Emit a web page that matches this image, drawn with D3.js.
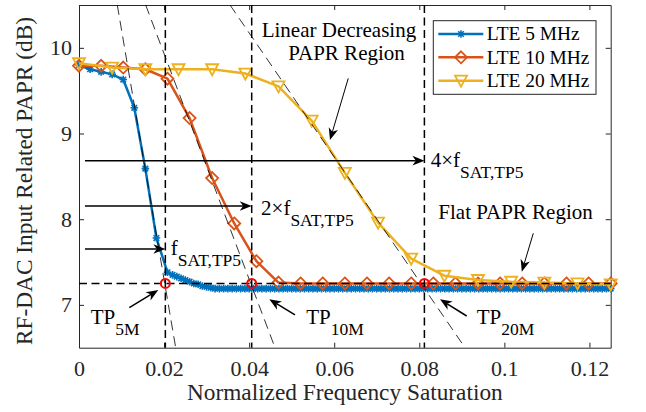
<!DOCTYPE html>
<html lang="en">
<head>
<meta charset="UTF-8">
<title>RF-DAC input PAPR vs normalized frequency saturation</title>
<style>
    body { margin: 0; background: #fff; }
    svg text { font-family: 'Liberation Serif', 'Times New Roman', serif; }
</style>
<script src="https://d3js.org/d3.v7.min.js"></script>
</head>
<body>
<svg id="chart" width="646" height="412"></svg>
<script>
// values
const xTicks = [0, 0.02, 0.04, 0.06, 0.08, 0.1, 0.12];
const xTickLabels = ["0", "0.02", "0.04", "0.06", "0.08", "0.1", "0.12"];
const yTicks = [7, 8, 9, 10];

const seriesNames = ["LTE 5 MHz", "LTE 10 MHz", "LTE 20 MHz"];
const seriesColors = ["#0072BD", "#D95319", "#EDB120"];

const lte5X = [0, 0.0026, 0.0052, 0.0078, 0.0104, 0.013, 0.0156, 0.0182, 0.0208,
    0.022, 0.023, 0.024, 0.025, 0.026, 0.027, 0.028, 0.029, 0.030, 0.031,
    0.032, 0.033, 0.034, 0.035, 0.036, 0.037, 0.038, 0.039, 0.040, 0.041,
    0.042, 0.043, 0.044, 0.045, 0.046, 0.047, 0.048, 0.049, 0.050, 0.051,
    0.052, 0.053, 0.054, 0.055, 0.056, 0.057, 0.058, 0.059, 0.060, 0.061,
    0.062, 0.063, 0.064, 0.065, 0.066, 0.067, 0.068, 0.069, 0.070, 0.071,
    0.072, 0.073, 0.074, 0.075, 0.076, 0.077, 0.078, 0.079, 0.080, 0.081,
    0.082, 0.083, 0.084, 0.085, 0.086, 0.087, 0.088, 0.089, 0.090, 0.091,
    0.092, 0.093, 0.094, 0.095, 0.096, 0.097, 0.098, 0.099, 0.100, 0.101,
    0.102, 0.103, 0.104, 0.105, 0.106, 0.107, 0.108, 0.109, 0.110, 0.111,
    0.112, 0.113, 0.114, 0.115, 0.116, 0.117, 0.118, 0.119, 0.120, 0.121,
    0.122, 0.123, 0.124, 0.125];
const lte5Y = [9.80, 9.75, 9.72, 9.69, 9.63, 9.30, 8.59, 7.78, 7.38,
    7.35, 7.33, 7.31, 7.29, 7.27, 7.25, 7.24, 7.22, 7.21, 7.20,
    7.19, 7.19, 7.19, 7.19, 7.19, 7.19, 7.19, 7.19, 7.19, 7.19,
    7.19, 7.19, 7.19, 7.19, 7.19, 7.19, 7.19, 7.19, 7.19, 7.19,
    7.19, 7.19, 7.19, 7.19, 7.19, 7.19, 7.19, 7.19, 7.19, 7.19,
    7.19, 7.19, 7.19, 7.19, 7.19, 7.19, 7.19, 7.19, 7.19, 7.19,
    7.19, 7.19, 7.19, 7.19, 7.19, 7.19, 7.19, 7.19, 7.19, 7.19,
    7.19, 7.19, 7.19, 7.19, 7.19, 7.19, 7.19, 7.19, 7.19, 7.19,
    7.19, 7.19, 7.19, 7.19, 7.19, 7.19, 7.19, 7.19, 7.19, 7.19,
    7.19, 7.19, 7.19, 7.19, 7.19, 7.19, 7.19, 7.19, 7.19, 7.19,
    7.19, 7.19, 7.19, 7.19, 7.19, 7.19, 7.19, 7.19, 7.19, 7.19,
    7.19, 7.19, 7.19, 7.19];

const lte10X = [0, 0.0052, 0.0104, 0.0156, 0.0208, 0.026, 0.0313, 0.0365, 0.0417,
    0.0469, 0.0521, 0.0573, 0.0625, 0.0677, 0.0729, 0.0781, 0.0833, 0.0885,
    0.0938, 0.099, 0.1042, 0.1094, 0.1146, 0.1198, 0.125];
const lte10Y = [9.79, 9.79, 9.77, 9.75, 9.64, 9.18, 8.48, 7.95, 7.51,
    7.26, 7.25, 7.25, 7.25, 7.25, 7.25, 7.25, 7.25, 7.25,
    7.25, 7.25, 7.25, 7.25, 7.25, 7.25, 7.25];

const lte20X = [0, 0.0078, 0.0156, 0.0234, 0.0313, 0.0391, 0.0469, 0.0547, 0.0625,
    0.0703, 0.0781, 0.0859, 0.0938, 0.1016, 0.1094, 0.1172, 0.125];
const lte20Y = [9.82, 9.77, 9.75, 9.75, 9.75, 9.70, 9.55, 9.15, 8.54,
    7.96, 7.54, 7.34, 7.29, 7.27, 7.26, 7.25, 7.24];

// transition points and the linear fits of the decreasing region
const tpX = [0.0203, 0.0406, 0.0812];
const tpY = 7.25;
const fitTopX = [0.0090, 0.01568, 0.0355];     // where each fit leaves the top (y = 10.5)
const fitBottomX = [0.02273, 0.04608, 0.09075]; // and the bottom (y = 6.5)
const fsatArrowY = [7.652, 8.154, 8.683];

const svg = d3.select("#chart");
const plotLeft = 79, plotRight = 610.7, plotTop = 5, plotBottom = 347.7;
const fontTick = 22, fontLabel = 23.3, fontNote = 21, fontSub = 17.5, fontLegend = 19.4;

const x = d3.scaleLinear().domain([0, 0.125]).range([plotLeft, plotRight]);
const y = d3.scaleLinear().domain([6.5, 10.5]).range([plotBottom, plotTop]);
const axisColor = "#262626";

// axes (box with inward ticks)
const gx = svg.append("g").attr("transform", `translate(0,${plotBottom})`)
    .call(d3.axisBottom(x).tickValues(xTicks).tickFormat((d, i) => xTickLabels[i])
        .tickSizeInner(-5).tickSizeOuter(0).tickPadding(13));
const gxt = svg.append("g").attr("transform", `translate(0,${plotTop})`)
    .call(d3.axisTop(x).tickValues(xTicks).tickFormat("").tickSizeInner(-5).tickSizeOuter(0));
const gy = svg.append("g").attr("transform", `translate(${plotLeft},0)`)
    .call(d3.axisLeft(y).tickValues(yTicks).tickFormat(d3.format("d"))
        .tickSizeInner(-5).tickSizeOuter(0).tickPadding(7));
const gyr = svg.append("g").attr("transform", `translate(${plotRight},0)`)
    .call(d3.axisRight(y).tickValues(yTicks).tickFormat("").tickSizeInner(-5).tickSizeOuter(0));

[gx, gxt, gy, gyr].forEach(g => {
    g.attr("font-family", null).attr("font-size", null);
    g.selectAll("path, line").attr("stroke", axisColor).attr("stroke-width", 1);
    g.selectAll("text").attr("font-size", fontTick).attr("fill", axisColor);
});

svg.append("text")
    .attr("x", (plotLeft + plotRight) / 2).attr("y", 400)
    .attr("text-anchor", "middle").attr("font-size", fontLabel).attr("fill", axisColor)
    .text("Normalized Frequency Saturation");

svg.append("text")
    .attr("transform", `translate(32,181) rotate(-90)`)
    .attr("text-anchor", "middle").attr("font-size", fontLabel).attr("fill", axisColor)
    .text("RF-DAC Input Related PAPR (dB)");

// marker shapes
const markerPaths = [
    "M-3.8,0L3.8,0M0,-3.8L0,3.8M-2.8,-2.8L2.8,2.8M-2.8,2.8L2.8,-2.8",
    "M0,-6L6,0L0,6L-6,0Z",
    "M-6,-5L6,-5L0,6Z"
];

const series = [
    d3.zip(lte5X, lte5Y),
    d3.zip(lte10X, lte10Y),
    d3.zip(lte20X, lte20Y)
];

const line = d3.line().x(d => x(d[0])).y(d => y(d[1]));

series.forEach((data, i) => {
    const g = svg.append("g");
    g.append("path")
        .datum(data)
        .attr("d", line)
        .attr("fill", "none")
        .attr("stroke", seriesColors[i])
        .attr("stroke-width", 2.5)
        .attr("stroke-linejoin", "round");
    g.selectAll(".m")
        .data(data)
        .enter().append("path")
        .attr("d", markerPaths[i])
        .attr("transform", d => `translate(${x(d[0])},${y(d[1])})`)
        .attr("fill", "none")
        .attr("stroke", seriesColors[i])
        .attr("stroke-width", i === 0 ? 1.6 : 1.8);
});

// linear fits (thin dashed)
tpX.forEach((tp, i) => {
    svg.append("line")
        .attr("x1", x(fitTopX[i])).attr("y1", y(10.5))
        .attr("x2", x(fitBottomX[i])).attr("y2", y(6.5))
        .attr("stroke", "#000").attr("stroke-width", 0.8)
        .attr("stroke-dasharray", "10,6");
});

// transition point guides
tpX.forEach(tp => {
    svg.append("line")
        .attr("x1", x(tp)).attr("y1", y(10.5))
        .attr("x2", x(tp)).attr("y2", y(6.5))
        .attr("stroke", "#000").attr("stroke-width", 1.5)
        .attr("stroke-dasharray", "8,4.5");
});
svg.append("line")
    .attr("x1", x(0)).attr("y1", y(tpY))
    .attr("x2", x(0.125)).attr("y2", y(tpY))
    .attr("stroke", "#000").attr("stroke-width", 1.5)
    .attr("stroke-dasharray", "8,4.5");

svg.selectAll(".tp")
    .data(tpX)
    .enter().append("circle")
    .attr("cx", d => x(d)).attr("cy", y(tpY)).attr("r", 4.5)
    .attr("fill", "none").attr("stroke", "#FF0000").attr("stroke-width", 2);

// arrows
function arrow(x1, y1, x2, y2, w) {
    const px1 = x(x1), py1 = y(y1), px2 = x(x2), py2 = y(y2);
    const a = Math.atan2(py2 - py1, px2 - px1);
    const len = 12, half = 4.8, notch = 3.5;
    const ca = Math.cos(a), sa = Math.sin(a);
    const bx = px2 - len * ca, by = py2 - len * sa;
    const nx = px2 - (len - notch) * ca, ny = py2 - (len - notch) * sa;
    svg.append("line")
        .attr("x1", px1).attr("y1", py1).attr("x2", nx).attr("y2", ny)
        .attr("stroke", "#000").attr("stroke-width", w);
    svg.append("path")
        .attr("d", `M${px2},${py2}L${bx - half * sa},${by + half * ca}L${nx},${ny}L${bx + half * sa},${by - half * ca}Z`)
        .attr("fill", "#000");
}

tpX.forEach((tp, i) => arrow(0.0014, fsatArrowY[i], tp, fsatArrowY[i], 1.5));
arrow(0.01183, 6.967, 0.01864, 7.173, 1.5);
arrow(0.05078, 6.882, 0.04474, 7.065, 1.5);
arrow(0.09115, 6.870, 0.08487, 7.065, 1.5);
arrow(0.0633, 9.644, 0.0590, 8.924, 1);
arrow(0.1068, 7.835, 0.1041, 7.387, 1);

// labels
const plainNotes = [
    { x: 0.04295, y: 10.13, text: "Linear Decreasing" },
    { x: 0.0492, y: 9.858, text: "PAPR Region" },
    { x: 0.08447, y: 8.002, text: "Flat PAPR Region" }
];
plainNotes.forEach(n => {
    svg.append("text").attr("x", x(n.x)).attr("y", y(n.y))
        .attr("font-size", fontNote).attr("fill", "#000").text(n.text);
});

const subNotes = [
    { x: 0.0827, y: 8.613, main: "4×f", sub: "SAT,TP5" },
    { x: 0.0428, y: 8.049, main: "2×f", sub: "SAT,TP5" },
    { x: 0.02156, y: 7.582, main: "f", sub: "SAT,TP5" },
    { x: 0.00275, y: 6.771, main: "TP", sub: "5M" },
    { x: 0.0534, y: 6.771, main: "TP", sub: "10M" },
    { x: 0.0935, y: 6.771, main: "TP", sub: "20M" }
];
subNotes.forEach(n => {
    const t = svg.append("text").attr("x", x(n.x)).attr("y", y(n.y))
        .attr("font-size", fontNote).attr("fill", "#000");
    t.append("tspan").text(n.main);
    t.append("tspan").attr("font-size", fontSub).attr("dy", 11).text(n.sub);
});

// legend
const lg = svg.append("g");
lg.append("rect")
    .attr("x", 433.3).attr("y", 20.7).attr("width", 162.7).attr("height", 73.6)
    .attr("fill", "#fff").attr("stroke", axisColor).attr("stroke-width", 1);
seriesNames.forEach((name, i) => {
    const ly = 34 + i * 23.35;
    lg.append("line")
        .attr("x1", 438.3).attr("x2", 483.3).attr("y1", ly).attr("y2", ly)
        .attr("stroke", seriesColors[i]).attr("stroke-width", 2.5);
    lg.append("path")
        .attr("d", markerPaths[i])
        .attr("transform", `translate(461,${ly})`)
        .attr("fill", "none").attr("stroke", seriesColors[i])
        .attr("stroke-width", i === 0 ? 1.6 : 1.8);
    lg.append("text")
        .attr("x", 486.7).attr("y", ly).attr("dy", "0.33em")
        .attr("font-size", fontLegend).attr("fill", "#000").text(name);
});
</script>
</body>
</html>
